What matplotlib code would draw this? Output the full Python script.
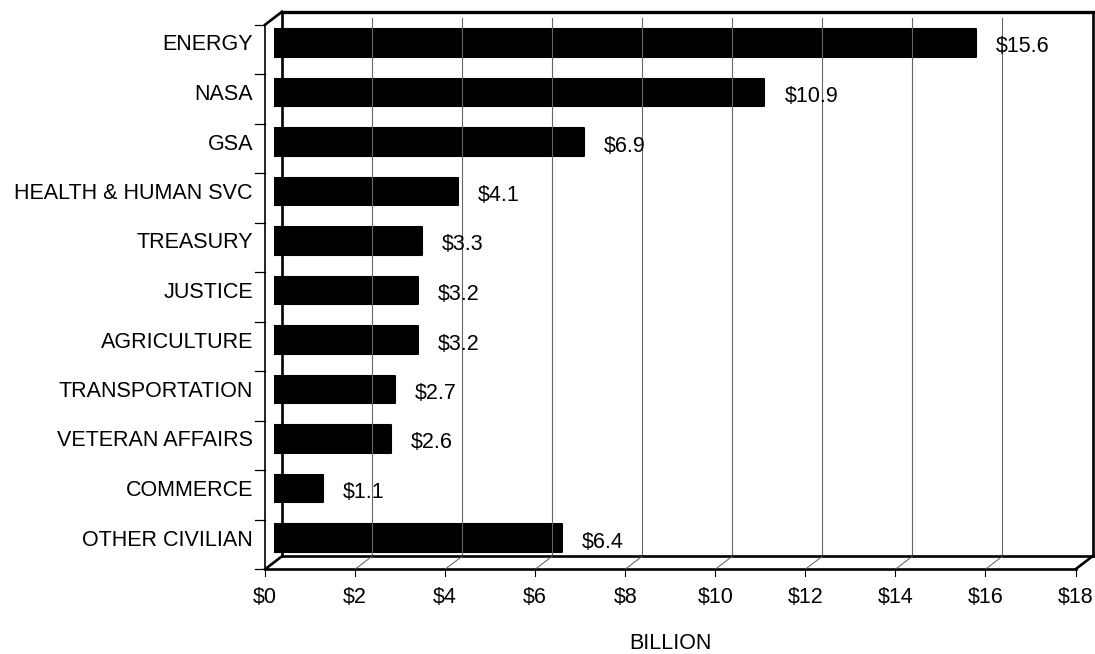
import matplotlib
matplotlib.use("Agg")
import matplotlib.pyplot as plt
import numpy as np

# =========================
# data
# =========================
agencies = ["ENERGY", "NASA", "GSA", "HEALTH & HUMAN SVC", "TREASURY", "JUSTICE",
            "AGRICULTURE", "TRANSPORTATION", "VETERAN AFFAIRS", "COMMERCE",
            "OTHER CIVILIAN"]
values = [15.6, 10.9, 6.9, 4.1, 3.3, 3.2, 3.2, 2.7, 2.6, 1.1, 6.4]
value_labels = ["$15.6", "$10.9", "$6.9", "$4.1", "$3.3", "$3.2", "$3.2",
                "$2.7", "$2.6", "$1.1", "$6.4"]
xticks = [0, 2, 4, 6, 8, 10, 12, 14, 16, 18]
xtick_labels = ["$" + str(t) for t in xticks]

plt.rcParams["font.family"] = ["Liberation Sans", "DejaVu Sans"]
FS = 15.5

W, H = 1095, 654
fig = plt.figure(figsize=(W / 100, H / 100), dpi=100)

# axes = middle depth plane of the 3d box
left_px, right_px, top_px, bot_px = 273.5, 1084, 18.25, 562.75
ax = fig.add_axes([left_px / W, 1 - bot_px / H,
                   (right_px - left_px) / W, (bot_px - top_px) / H])
ax.set_xlim(0, 18)
ax.set_ylim(10.5, -0.5)
ax.axis("off")

# half depth of the box, pixels -> data units
px_x = (right_px - left_px) / 18
px_y = (bot_px - top_px) / 11
DX = 8.5 / px_x
DY = 6.5 / px_y

lw_frame = 1.9
k = "black"

# back wall
for t in xticks[1:-1]:
    ax.vlines(t + DX, -0.5 - DY, 10.5 - DY, colors="0.4", lw=0.8)
ax.plot([0 + DX, 18 + DX], [-0.5 - DY, -0.5 - DY], color=k, lw=lw_frame + 0.5, clip_on=False)
ax.plot([0 + DX, 0 + DX], [-0.5 - DY, 10.5 - DY], color=k, lw=lw_frame, clip_on=False)
ax.plot([18 + DX, 18 + DX], [-0.5 - DY, 10.5 - DY], color=k, lw=lw_frame, clip_on=False)
ax.plot([0 + DX, 18 + DX], [10.5 - DY, 10.5 - DY], color=k, lw=lw_frame, clip_on=False)

# floor and front edges
ax.plot([0 - DX, 18 - DX], [10.5 + DY, 10.5 + DY], color=k, lw=lw_frame, clip_on=False)
ax.plot([0 - DX, 0 - DX], [-0.5 + DY, 10.5 + DY], color=k, lw=1.2, clip_on=False)
for t in xticks[1:-1]:
    ax.plot([t - DX, t + DX], [10.5 + DY, 10.5 - DY], color="0.35", lw=0.7, clip_on=False)
for x0, y0 in [(0, -0.5), (0, 10.5), (18, 10.5)]:
    ax.plot([x0 - DX, x0 + DX], [y0 + DY, y0 - DY], color=k, lw=lw_frame, clip_on=False)

# ticks on the front axes
for t, lab in zip(xticks, xtick_labels):
    ax.plot([t - DX, t - DX], [10.5 + DY, 10.5 + DY + 7 / px_y], color=k, lw=0.8, clip_on=False)
    ax.text(t - DX, 10.5 + DY + 28 / px_y, lab, ha="center", va="center", fontsize=FS)
for b in np.arange(-0.5, 11, 1):
    ax.plot([0 - DX - 10 / px_x, 0 - DX], [b + DY, b + DY], color=k, lw=0.9, clip_on=False)

# bars
y = np.arange(len(agencies))
ax.barh(y, values, height=0.56, color=k, edgecolor=k, linewidth=1.5,
        joinstyle="round")

for yi, v, lab in zip(y, values, value_labels):
    ax.text(v + 20 / px_x, yi + 4 / px_y, lab, ha="left", va="center", fontsize=FS)

for yi, name in zip(y, agencies):
    ax.text(0 - DX - 12 / px_x, yi + 2 / px_y, name, ha="right", va="center", fontsize=FS)

ax.text(9 - DX, 10.5 + DY + 74 / px_y, "BILLION", ha="center", va="center", fontsize=FS)

fig.savefig("out.png", dpi=100)
